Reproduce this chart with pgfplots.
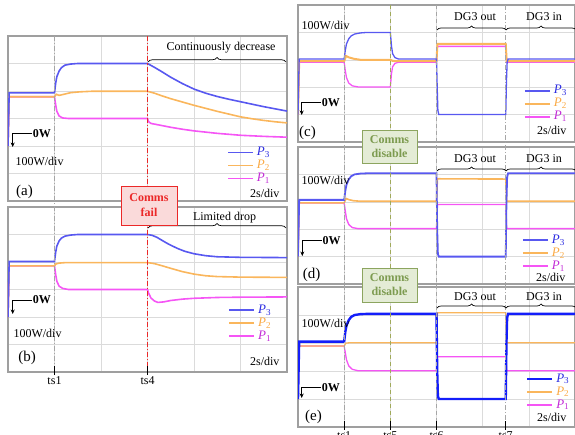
\documentclass[border=0pt]{standalone}
\usepackage{pgfplots}
\pgfplotsset{compat=1.18}
\usepackage{fontspec}
\setmainfont{Liberation Serif}
\usetikzlibrary{decorations.pathreplacing,arrows.meta}

\definecolor{b3}{RGB}{88,88,240}
\definecolor{b3e}{RGB}{20,30,250}
\definecolor{o2}{RGB}{250,182,92}
\definecolor{m1}{RGB}{245,85,245}
\definecolor{tb}{RGB}{45,45,225}
\definecolor{to}{RGB}{250,170,70}
\definecolor{tm}{RGB}{195,45,215}
\definecolor{cfred}{RGB}{235,40,40}
\definecolor{cffill}{RGB}{250,218,218}
\definecolor{cdgreen}{RGB}{125,155,80}
\definecolor{cdfill}{RGB}{228,236,214}
\definecolor{cdborder}{RGB}{140,165,95}
\definecolor{olive5}{RGB}{160,170,90}

\pgfplotsset{
 panel/.style={scale only axis, anchor=south west, xmin=0, xmax=12,
   xtick={0,2,...,12}, grid=major, grid style={line width=0.4pt, draw=gray!28},
   xticklabels={}, yticklabels={}, major tick length=0pt,
   axis line style={draw=gray!75, line width=1.1pt}, no marks, reverse legend,
   legend cell align=left,
   legend style={draw=none, fill=none, anchor=north west, font=\fontsize{13}{13}\selectfont,
     row sep=0pt, inner sep=0pt, column sep=3pt,
     nodes={inner sep=0pt, text height=9.5pt, text depth=3.5pt}},
   legend image code/.code={\draw[##1] (0pt,0pt) -- (25pt,0pt);}},
 leftp/.style={panel, width=279pt, height=165pt, ymin=-200, ymax=400, ytick={-200,-100,...,400}},
 rightp/.style={panel, width=277pt, ymin=-100, ymax=400, ytick={-100,0,...,400}},
}
\newcommand{\LP}[2]{\textcolor{#1}{\fontsize{13}{13}\selectfont\textit{P}\textsubscript{#2}}}

\begin{document}
\begin{tikzpicture}
\useasboundingbox (0,0) rectangle (575pt,434pt);

% (a)
\begin{axis}[leftp, at={(8pt,233pt)}, legend style={at={(0.785,0.335)}}]
\addplot[m1, line width=1.6pt] coordinates {(0,0) (0.05,179) (2,179) (2.05,150) (2.1,126) (2.2,109) (2.35,102) (2.6,100) (6,100) (6.05,88) (6.15,82) (6.4,78) (7,68) (7.5,61) (8,55) (9,46) (10,39) (11,35) (12,32)};
\addlegendentry{\LP{tm}{1}}
\addplot[o2, line width=1.6pt] coordinates {(0,0) (0.05,179) (2,179) (2.08,188) (2.2,184) (2.4,188) (2.7,194) (3.1,197) (3.6,199) (6,199) (6.3,192) (6.6,183) (7,172) (7.5,160) (8,148) (8.5,137) (9,126) (9.5,116) (10,106) (10.5,99) (11,93) (11.5,88) (12,84)};
\addlegendentry{\LP{to}{2}}
\addplot[b3, line width=1.6pt] coordinates {(0,0) (0.05,193) (2,193) (2.05,228) (2.1,252) (2.2,273) (2.3,285) (2.45,294) (2.7,298) (3,300) (6,300) (6.3,286) (6.6,271) (7,250) (7.5,227) (8,207) (8.5,192) (9,180) (9.5,170) (10,161) (10.5,152) (11,143) (11.5,135) (12,127)};
\addlegendentry{\LP{tb}{3}}
\end{axis}

% (b)
\begin{axis}[leftp, at={(8pt,62pt)}, legend style={at={(0.79,0.415)}}]
\addplot[m1, line width=1.6pt] coordinates {(0,0) (0.05,186) (2,186) (2.05,155) (2.1,130) (2.2,112) (2.35,104) (2.6,100) (6,100) (6.05,86) (6.15,69) (6.3,58) (6.45,53) (6.7,55) (7,60) (7.5,65) (8,68) (9,71) (10,72) (12,73)};
\addlegendentry{\LP{tm}{1}}
\addplot[o2, line width=1.6pt] coordinates {(0,0) (0.05,186) (2,186) (2.06,193) (2.2,196) (2.5,198) (6,198) (6.3,194) (6.6,187) (7,177) (7.5,165) (8,156) (8.5,150) (9,147) (10,145) (12,144)};
\addlegendentry{\LP{to}{2}}
\addplot[b3, line width=1.6pt] coordinates {(0,0) (0.05,202) (2,202) (2.05,235) (2.1,258) (2.2,277) (2.3,287) (2.45,294) (2.7,298) (3,300) (6,300) (6.2,297) (6.4,290) (6.6,280) (6.8,270) (7,261) (7.3,249) (7.6,239) (8,230) (8.5,223) (9,219) (10,217) (12,216)};
\addlegendentry{\LP{tb}{3}}
\end{axis}

% (c)
\begin{axis}[rightp, height=137pt, at={(298pt,292pt)}, legend style={at={(0.815,0.422)}}]
\addplot[m1, line width=1.3pt] coordinates {(0,0) (0.05,191) (2,191) (2.05,160) (2.1,135) (2.2,115) (2.35,105) (2.6,101) (4,101) (4.05,150) (4.1,175) (4.2,187) (4.35,191) (6,191) (6.04,249) (9,249) (9.04,191) (12,191)};
\addlegendentry{\LP{tm}{1}}
\addplot[o2, line width=2pt] coordinates {(0,0) (0.05,195) (2,195) (2.08,214) (2.2,209) (2.4,204) (2.7,200) (4,200) (4.1,196) (4.3,195) (6,195) (6.04,258) (9,258) (9.04,195) (12,195)};
\addlegendentry{\LP{to}{2}}
\addplot[b3, line width=1.3pt] coordinates {(0,0) (0.05,203) (2,203) (2.05,235) (2.1,258) (2.2,277) (2.3,287) (2.45,294) (2.7,298) (3,300) (4,300) (4.05,250) (4.1,222) (4.2,208) (4.35,203) (6,203) (6.03,100) (6.06,15) (6.1,0) (9,0) (9.03,120) (9.06,190) (9.1,203) (12,203)};
\addlegendentry{\LP{tb}{3}}
\end{axis}

% (d)
\begin{axis}[rightp, height=137pt, at={(298pt,150pt)}, legend style={at={(0.808,0.369)}}]
\addplot[m1, line width=1.4pt] coordinates {(0,0) (0.05,196) (2,196) (2.05,165) (2.1,138) (2.2,117) (2.35,106) (2.6,102) (6,102) (6.04,190) (9,190) (9.04,102) (12,102)};
\addlegendentry{\LP{tm}{1}}
\addplot[o2, line width=1.6pt] coordinates {(0,0) (0.05,196) (2,196) (2.08,212) (2.2,208) (2.4,204) (2.7,202) (6,202) (6.04,284) (9,283) (9.04,202) (12,202)};
\addlegendentry{\LP{to}{2}}
\addplot[b3, line width=1.8pt] coordinates {(0,0) (0.05,207) (2,207) (2.05,240) (2.1,262) (2.2,282) (2.3,293) (2.45,300) (2.7,303) (3,304) (6,304) (6.03,100) (6.06,10) (6.1,0) (9,0) (9.03,200) (9.06,290) (9.1,304) (12,304)};
\addlegendentry{\LP{tb}{3}}
\end{axis}

% (e)
\begin{axis}[rightp, height=140pt, at={(298pt,7pt)}, legend style={at={(0.822,0.39)}}]
\addplot[m1, line width=1.3pt] coordinates {(0,0) (0.05,189) (2,189) (2.05,165) (2.1,140) (2.2,118) (2.35,106) (2.6,101) (6,101) (6.04,151) (9,151) (9.04,101) (12,101)};
\addlegendentry{\LP{tm}{1}}
\addplot[o2, line width=1.3pt] coordinates {(0,0) (0.05,189) (2,189) (2.08,200) (2.3,201) (6,201) (6.04,308) (9,308) (9.04,201) (12,201)};
\addlegendentry{\LP{to}{2}}
\addplot[b3e, line width=2.4pt] coordinates {(0,0) (0.05,205) (2,205) (2.05,240) (2.1,262) (2.2,282) (2.3,293) (2.45,300) (2.7,303) (3,304) (6,304) (6.03,100) (6.06,10) (6.1,0) (9,0) (9.03,200) (9.06,290) (9.1,304) (12,304)};
\addlegendentry{\LP{tb}{3}}
\end{axis}

% annotations
\begin{scope}[x=1pt,y=-1pt,yshift=434pt, every node/.style={font=\fontsize{12}{14}\selectfont}]
% event lines
\draw[gray!70, line width=0.7pt, dash pattern=on 5pt off 2pt on 1pt off 2pt] (54.5,36) -- (54.5,372);
\draw[cfred, line width=0.9pt, dash pattern=on 5pt off 2pt on 1.2pt off 2pt] (147.5,36) -- (147.5,372);
\draw[gray!70, line width=0.7pt, dash pattern=on 5pt off 2pt on 1pt off 2pt] (344.2,5) -- (344.2,434);
\draw[olive5, line width=0.8pt, dash pattern=on 4pt off 3pt] (390.3,5) -- (390.3,434);
\draw[gray!70, line width=0.7pt, dash pattern=on 4pt off 3pt] (436.5,5) -- (436.5,434);
\draw[gray!70, line width=0.7pt, dash pattern=on 5pt off 2pt on 1pt off 2pt] (505.7,5) -- (505.7,434);
% braces and texts
\draw[decorate, decoration={brace, amplitude=4.5pt}, line width=0.7pt] (148,62) -- (286,62);
\node at (221,48) {Continuously decrease};
\draw[decorate, decoration={brace, amplitude=4.5pt}, line width=0.7pt] (148,228) -- (286,228);
\node at (224.5,218) {Limited drop};
\foreach \yb/\yt in {30/17, 171/159, 308/297}{
  \draw[decorate, decoration={brace, amplitude=4pt}, line width=0.7pt] (437,\yb) -- (506,\yb);
  \draw[decorate, decoration={brace, amplitude=4pt}, line width=0.7pt] (506,\yb) -- (576,\yb);
  \node at (475,\yt) {DG3 out};
  \node at (544,\yt) {DG3 in};
}
% scale texts
\node[anchor=west] at (12,161) {100W/div};
\node[anchor=west] at (10,333) {100W/div};
\node[anchor=west] at (298,25) {100W/div};
\node[anchor=west] at (298,180) {100W/div};
\node[anchor=west] at (298,323) {100W/div};
\node[anchor=east] at (283,193) {2s/div};
\node[anchor=east] at (283,361) {2s/div};
\node[anchor=east] at (570,130) {2s/div};
\node[anchor=east] at (569,277) {2s/div};
\node[anchor=east] at (570,417) {2s/div};
\node[font=\fontsize{15}{15}\selectfont] at (24.5,192) {(a)};
\node[font=\fontsize{15}{15}\selectfont] at (27,358) {(b)};
\node[font=\fontsize{15}{15}\selectfont] at (307.5,133) {(c)};
\node[font=\fontsize{15}{15}\selectfont] at (311.5,275) {(d)};
\node[font=\fontsize{15}{15}\selectfont] at (313.5,417) {(e)};
% 0W markers
\foreach \xc/\yc/\yt in {12.7/134/147, 12.7/300/314, 301.7/102.7/115, 302.3/241/256, 301.7/387.7/398}{
  \draw[line width=1pt, -{Stealth[length=4.5pt,width=4pt]}] (\xc+19.5,\yc) -- (\xc,\yc) -- (\xc,\yt);
  \node[anchor=west, inner sep=0.5pt, font=\fontsize{12}{14}\selectfont\bfseries] at (\xc+19.5,\yc) {0W};
}
% bottom ticks
\foreach \xx/\lab in {54.5/ts1, 147.5/ts4}{
  \draw[line width=0.8pt] (\xx,366) -- (\xx,375);
  \node[anchor=base] at (\xx,384) {\lab};
}
\foreach \xx/\lab in {344.2/ts1, 390.3/ts5, 436.5/ts6, 505.7/ts7}{
  \draw[line width=0.8pt] (\xx,421) -- (\xx,430);
  \node[anchor=base] at (\xx,439) {\lab};
}
% boxes
\node[draw=cfred, fill=cffill, line width=0.9pt, minimum width=56pt, minimum height=39pt, align=center, text=cfred, font=\fontsize{12}{15}\selectfont\bfseries, inner sep=1pt] at (149,205.5) {Comms\\fail};
\node[draw=cdborder, fill=cdfill, line width=0.9pt, minimum width=55pt, minimum height=33pt, align=center, text=cdgreen, font=\fontsize{12}{14}\selectfont\bfseries, inner sep=1pt] at (389.5,146.5) {Comms\\disable};
\node[draw=cdborder, fill=cdfill, line width=0.9pt, minimum width=55pt, minimum height=34pt, align=center, text=cdgreen, font=\fontsize{12}{14}\selectfont\bfseries, inner sep=1pt] at (389.5,285) {Comms\\disable};
\end{scope}
\end{tikzpicture}
\end{document}
